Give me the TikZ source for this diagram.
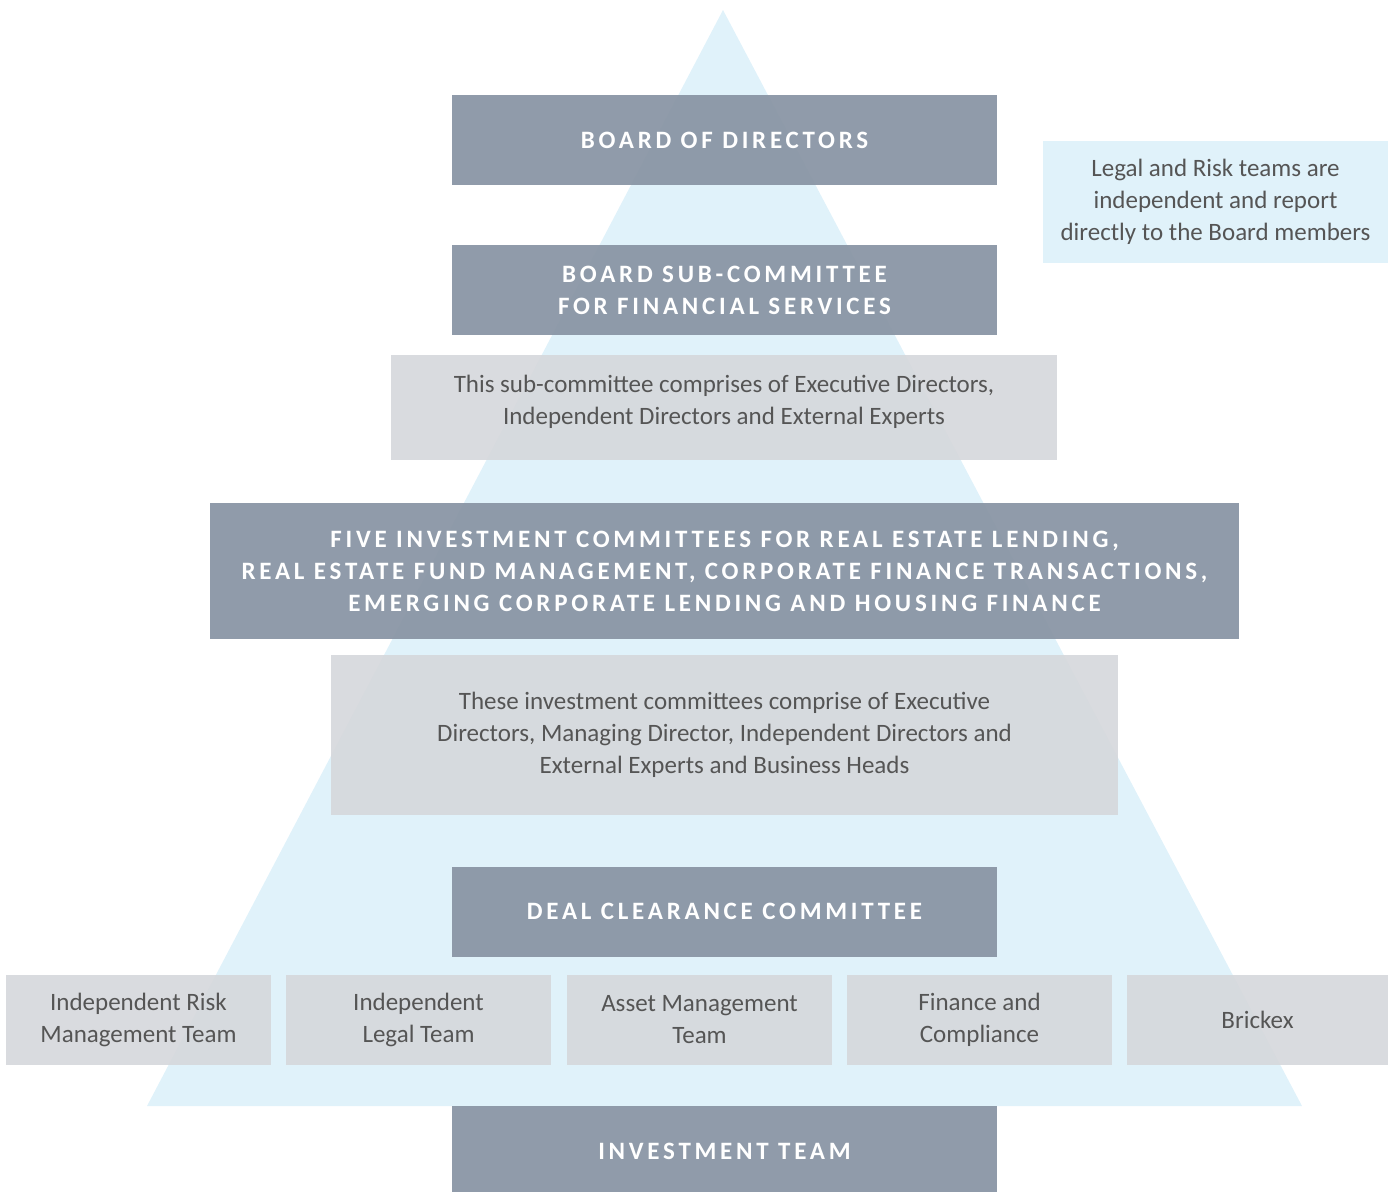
\documentclass[tikz,border=0pt]{standalone}
\usepackage{fontspec}
\setmainfont{Carlito}
\newfontfamily\headfont[LetterSpace=15]{Carlito}
\usepackage{xcolor}
\usetikzlibrary{positioning}
\definecolor{pyramidblue}{HTML}{E0F2FA}
\definecolor{slatebox}{HTML}{8A96A5}
\definecolor{greybox}{HTML}{D6D8DC}
\definecolor{bodytext}{HTML}{555555}

\begin{document}
\begin{tikzpicture}[
    x=1pt, y=-1pt,
    headbox/.style={fill=slatebox, fill opacity=0.95, text opacity=1, text=white,
        minimum width=545pt, minimum height=90pt, inner sep=0pt, align=center,
        font=\headfont\bfseries\fontsize{25}{32}\selectfont},
    notetext/.style={text=bodytext, inner sep=0pt, align=center, font=\fontsize{25}{32}\selectfont},
    notebox/.style={notetext, fill=greybox, fill opacity=0.92, text opacity=1},
    teambox/.style={notebox, minimum width=265pt, minimum height=90pt}
]
    \useasboundingbox (0,0) rectangle (1388,1191);

    % Pyramid behind everything
    \fill[pyramidblue] (723,10) -- (1302,1106) -- (147,1106) -- cycle;

    % Side remark
    \node[notetext, fill=pyramidblue, minimum width=345pt, minimum height=122pt]
        (remark) at (1215.5,202) {Legal and Risk teams are\\independent and report\\directly to the Board members};

    % Board levels
    \node[headbox] (board) at (724.5,140) {BOARD OF DIRECTORS};
    \node[headbox] (subcom) at (724.5,290) {BOARD SUB-COMMITTEE\\FOR FINANCIAL SERVICES};
    \fill[greybox, fill opacity=0.92] (391,355) rectangle (1057,460);
    \node[notetext] (subnote) at (724,402)
        {This sub-committee comprises of Executive Directors,\\Independent Directors and External Experts};

    % Investment committees
    \node[headbox, minimum width=1029pt, minimum height=136pt] (fiveic) at (724.5,571)
        {FIVE INVESTMENT COMMITTEES FOR REAL ESTATE LENDING,\\REAL ESTATE FUND MANAGEMENT, CORPORATE FINANCE TRANSACTIONS,\\EMERGING CORPORATE LENDING AND HOUSING FINANCE};
    \node[notebox, minimum width=787pt, minimum height=160pt] (icnote) at (724.5,735)
        {These investment committees comprise of Executive\\Directors, Managing Director, Independent Directors and\\External Experts and Business Heads};

    % Deal clearance and support teams
    \node[headbox] (deal) at (724.5,911.5) {DEAL CLEARANCE COMMITTEE};
    \node[teambox] (risk) at (138.5,1020) {Independent Risk\\Management Team};
    \node[teambox] (legal) at (418.5,1020) {Independent\\Legal Team};
    \node[teambox] (asset) at (699.5,1020) {Asset Management\\Team};
    \node[teambox] (finance) at (979.5,1020) {Finance and\\Compliance};
    \node[teambox, minimum width=261pt] (brickex) at (1257.5,1020) {Brickex};

    % Base
    \node[headbox] (invteam) at (724.5,1151) {INVESTMENT TEAM};

\end{tikzpicture}
\end{document}
